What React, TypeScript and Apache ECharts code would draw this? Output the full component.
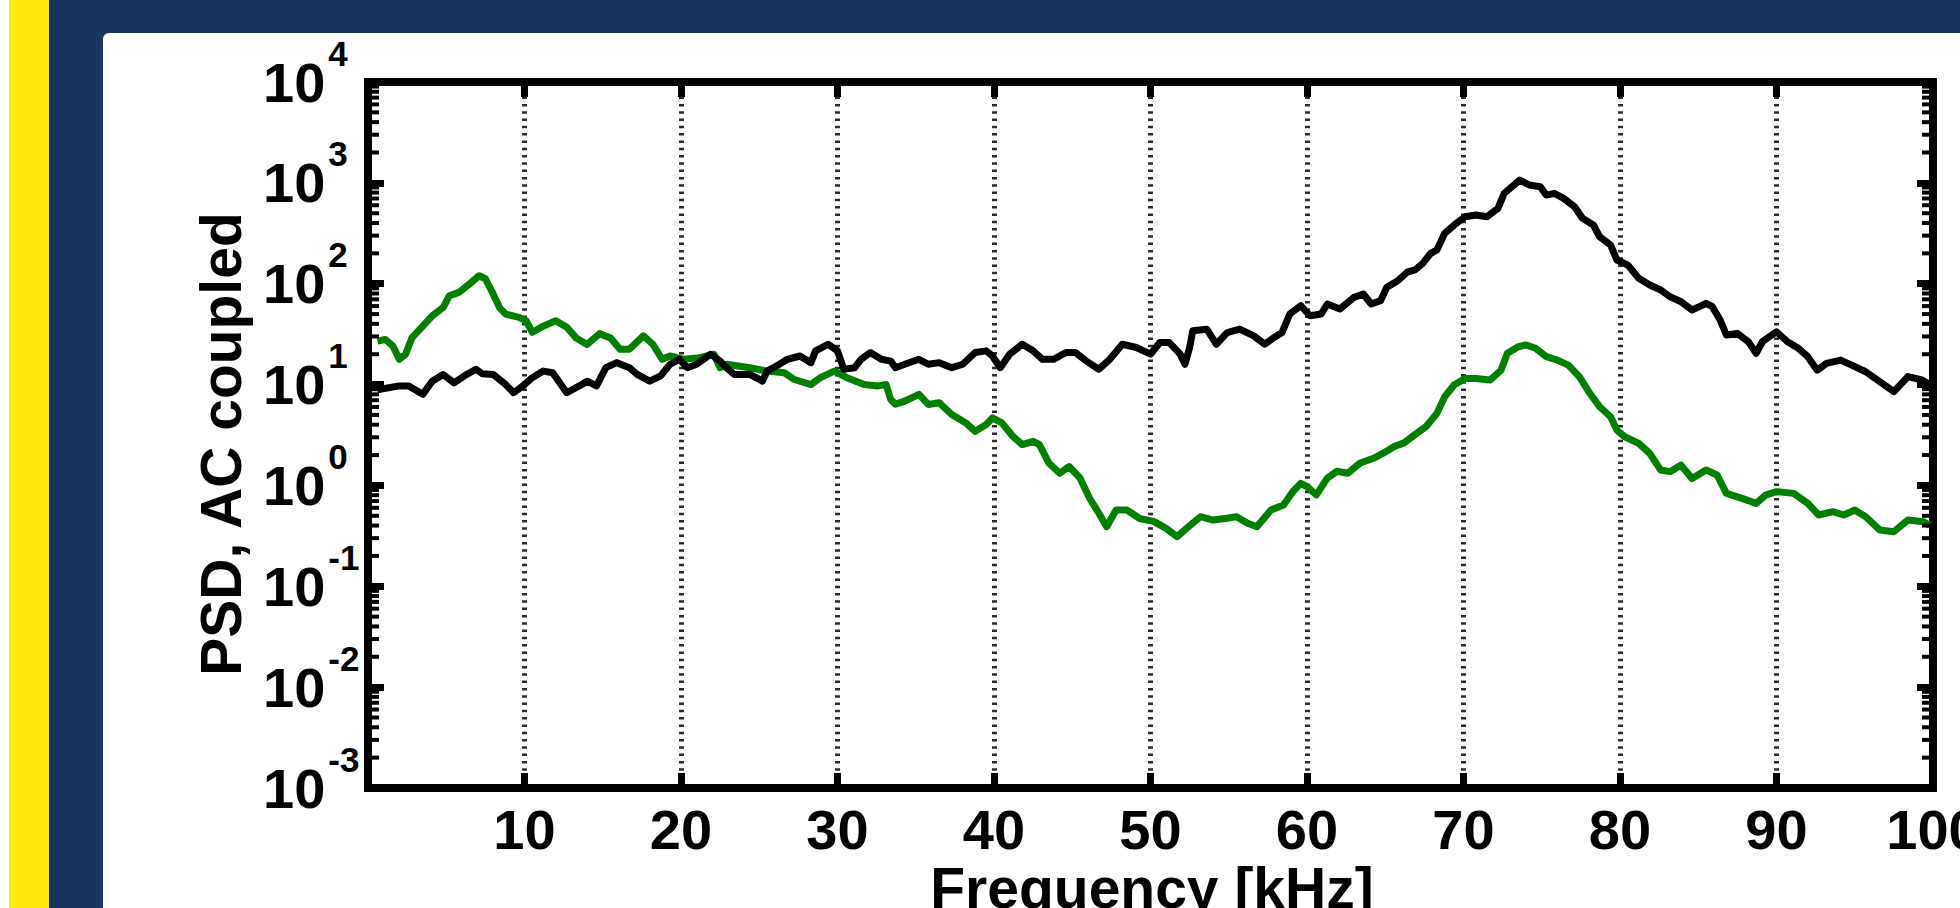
import React, { useEffect, useRef } from 'react';
import * as echarts from 'echarts';

// ---- data ----
const freqBlack = [
  0.6, 2.0, 2.6, 3.5, 4.1, 4.8, 5.5, 6.3, 6.9, 7.3,
  8.0, 8.8, 9.3, 9.9, 10.5, 11.2, 11.8, 12.7, 13.5, 14.0,
  14.6, 15.2, 15.9, 16.7, 17.2, 18.0, 18.7, 19.3, 19.9, 20.4,
  21.0, 21.9, 22.5, 22.9, 23.4, 24.4, 25.2, 25.5, 26.1, 26.8,
  27.6, 28.3, 28.6, 29.4, 30.0, 30.4, 31.1, 31.5, 32.1, 32.8,
  33.4, 33.7, 34.3, 35.2, 35.8, 36.5, 37.3, 38.0, 38.8, 39.5,
  39.9, 40.4, 41.0, 41.8, 42.5, 43.1, 43.8, 44.6, 45.2, 45.9,
  46.7, 47.4, 48.2, 49.1, 50.0, 50.6, 51.2, 51.9, 52.2, 52.5,
  52.7, 53.6, 54.2, 54.9, 55.7, 56.6, 57.3, 57.9, 58.4, 58.9,
  59.6, 60.2, 60.9, 61.3, 62.1, 63.0, 63.6, 64.1, 64.7, 65.1,
  65.8, 66.4, 66.9, 67.4, 67.9, 68.3, 68.8, 69.4, 70.1, 70.8,
  71.5, 72.2, 72.6, 73.1, 73.6, 74.2, 74.9, 75.3, 75.8, 76.4,
  77.1, 77.6, 78.3, 78.7, 79.4, 79.8, 80.5, 81.2, 81.9, 82.6,
  83.2, 83.9, 84.6, 85.5, 85.9, 86.4, 86.8, 87.5, 88.2, 88.7,
  89.1, 90.0, 90.7, 91.4, 92.0, 92.6, 93.2, 94.1, 94.8, 95.7,
  96.6, 97.5, 98.4, 99.3, 99.8,
];
const psdBlack = [
  8.9, 9.7, 9.7, 8.0, 10.8, 12.6, 10.4, 12.6, 14.2, 12.8,
  12.6, 10.0, 8.3, 9.7, 11.7, 13.6, 13.1, 8.3, 9.7, 10.8,
  9.7, 14.7, 16.5, 14.7, 12.6, 10.8, 12.2, 15.9, 17.8, 14.7,
  15.9, 20.0, 17.1, 14.7, 12.6, 12.6, 10.8, 13.6, 15.3, 17.8,
  19.2, 16.5, 21.6, 25.1, 21.6, 14.2, 14.7, 17.8, 20.8, 17.8,
  17.1, 14.7, 15.9, 17.8, 15.9, 16.5, 14.7, 15.9, 20.8, 21.6,
  19.2, 14.7, 20.0, 25.1, 21.6, 17.8, 17.8, 20.8, 20.8, 17.1,
  14.2, 17.8, 25.1, 23.3, 20.0, 26.1, 26.1, 20.0, 15.9, 23.3,
  34.1, 35.4, 25.1, 32.8, 35.4, 30.4, 25.1, 29.3, 32.8, 50.0,
  60.5, 48.1, 50.0, 62.9, 56.1, 73.2, 79.1, 62.9, 67.9, 92.1,
  107, 130, 137, 159, 200, 216, 316, 382, 462, 480,
  462, 558, 787, 916, 1067, 952, 916, 757, 787, 702,
  580, 445, 382, 292, 242, 172, 153, 113, 97, 86.6,
  74.3, 66.3, 54.8, 63.9, 59.2, 43.6, 31.0, 32.2, 26.6, 20.4,
  26.6, 33.4, 26.6, 22.9, 18.9, 13.9, 16.2, 17.5, 15.6, 13.4,
  10.7, 8.5, 12.0, 11.1, 10.0,
];
const freqGreen = [
  0.6, 1.1, 1.6, 2.0, 2.4, 2.8, 3.5, 4.1, 4.8, 5.2,
  5.8, 6.5, 7.1, 7.5, 7.9, 8.4, 8.8, 9.7, 10.1, 10.5,
  11.2, 12.0, 12.7, 13.3, 14.0, 14.8, 15.5, 16.1, 16.7, 17.6,
  18.2, 18.8, 19.3, 20.2, 21.2, 22.1, 22.5, 22.9, 24.4, 25.5,
  26.6, 27.2, 28.3, 28.9, 29.8, 30.6, 31.7, 32.6, 33.1, 33.4,
  33.7, 34.3, 35.2, 35.8, 36.5, 37.3, 38.2, 38.8, 39.5, 39.9,
  40.5, 41.2, 41.8, 42.5, 42.9, 43.5, 44.2, 44.8, 45.5, 46.1,
  46.7, 47.2, 47.8, 48.5, 49.3, 50.2, 51.0, 51.7, 52.3, 53.2,
  54.0, 54.9, 55.5, 56.2, 56.8, 57.7, 58.5, 59.1, 59.6, 60.0,
  60.6, 61.3, 61.9, 62.6, 63.4, 64.3, 64.9, 65.6, 66.2, 67.0,
  67.6, 68.3, 68.8, 69.4, 70.1, 70.8, 71.7, 72.4, 72.8, 73.5,
  74.0, 74.6, 75.3, 76.0, 76.7, 77.4, 78.0, 78.7, 79.4, 79.8,
  80.3, 81.2, 81.9, 82.6, 83.2, 83.9, 84.6, 85.5, 86.2, 86.8,
  87.8, 88.7, 89.3, 90.0, 91.1, 92.0, 92.7, 93.6, 94.3, 95.0,
  95.7, 96.6, 97.5, 98.4, 99.4, 99.8,
];
const psdGreen = [
  27, 28, 24, 17.8, 20, 29, 38, 48, 58, 76,
  82, 100, 120, 112, 85, 58, 50, 46, 43, 33,
  38, 43, 37, 29, 25, 32, 29, 22.4, 22.4, 30.4,
  25.1, 17.8, 19.2, 17.8, 18.5, 20, 14.7, 15.9, 14.7, 13.6,
  13.1, 11.3, 10.0, 11.7, 13.6, 11.7, 10.0, 9.7, 10.0, 7.1,
  6.4, 6.85, 8.0, 6.35, 6.6, 5.05, 4.17, 3.44, 4.01, 4.68,
  4.17, 3.07, 2.54, 2.74, 2.54, 1.67, 1.32, 1.54, 1.18, 0.75,
  0.53, 0.39, 0.57, 0.57, 0.47, 0.44, 0.375, 0.31, 0.375, 0.49,
  0.454, 0.472, 0.49, 0.421, 0.39, 0.571, 0.641, 0.87, 1.05, 0.975,
  0.806, 1.18, 1.38, 1.32, 1.67, 1.87, 2.10, 2.44, 2.64, 3.28,
  3.82, 5.18, 7.58, 9.9, 11.5, 11.5, 11.1, 13.9, 20.4, 23.7,
  24.7, 22.9, 18.9, 17.5, 15.6, 12.0, 8.5, 6.03, 4.80, 3.54,
  3.04, 2.61, 2.08, 1.42, 1.37, 1.59, 1.17, 1.42, 1.27, 0.834,
  0.744, 0.664, 0.803, 0.867, 0.834, 0.664, 0.509, 0.549, 0.509, 0.570,
  0.490, 0.361, 0.348, 0.454, 0.437, 0.40,
];

const xMin = 0;
const xMax = 100;
const xStep = 10;
const yMin = 0.001;
const yMax = 10000;
const minorDecades = [-3, -2, -1, 0, 1, 2, 3];
const minorMultipliers = [2, 3, 4, 5, 6, 7, 8, 9];
const xTitle = 'Frequency [kHz]';
const yTitle = 'PSD, AC coupled';

const FONT = "'Liberation Sans', Arial, Helvetica, sans-serif";

export default function App() {
  const ref = useRef<HTMLDivElement>(null);

  useEffect(() => {
    if (!ref.current) return;
    const chart = echarts.init(ref.current, undefined, { renderer: 'svg' });

    const minorTicks: number[][] = [];
    minorDecades.forEach((d) =>
      minorMultipliers.forEach((m) => minorTicks.push([xMin, m * Math.pow(10, d)]))
    );

    const axisLine = { show: true, onZero: false, lineStyle: { color: '#000', width: 8, cap: 'square' } };
    const majorTick = { show: true, inside: true, length: 16, lineStyle: { color: '#000', width: 7 } };

    const option: any = {
      animation: false,
      backgroundColor: '#ffffff',
      grid: {
        left: 368,
        right: 27,
        top: 82,
        bottom: 120,
        containLabel: false,
        outerBoundsMode: 'none',
      },
      graphic: [
        { type: 'rect', z: -100, silent: true, shape: { x: 9, y: 0, width: 40, height: 908 }, style: { fill: '#fde910' } },
        { type: 'rect', z: -100, silent: true, shape: { x: 49, y: 0, width: 1911, height: 908 }, style: { fill: '#1b365e' } },
        { type: 'rect', z: -99, silent: true, shape: { x: 103, y: 33, width: 1880, height: 900, r: [6, 0, 0, 0] }, style: { fill: '#ffffff' } },
        {
          type: 'text', z: 10, silent: true, x: 1152, y: 888,
          style: { text: xTitle, fontSize: 57, fontWeight: 'bold', fontFamily: FONT, fill: '#000', align: 'center', verticalAlign: 'middle' },
        },
        {
          type: 'text', z: 10, silent: true, x: 221, y: 444, rotation: Math.PI / 2,
          style: { text: yTitle, fontSize: 57, fontWeight: 'bold', fontFamily: FONT, fill: '#000', align: 'center', verticalAlign: 'middle' },
        },
      ],
      xAxis: [
        {
          type: 'value', position: 'bottom', min: xMin, max: xMax, interval: xStep,
          axisLine, axisTick: { ...majorTick, length: 15 },
          axisLabel: {
            show: true, margin: 13, color: '#000', fontSize: 56, fontWeight: 'bold', fontFamily: FONT,
            lineHeight: 56, showMinLabel: false, showMaxLabel: true,
          },
          splitLine: { show: true, lineStyle: { color: '#2b2b2b', width: 5, type: [2.5, 4.8] } },
        },
        {
          type: 'value', position: 'top', min: xMin, max: xMax, interval: xStep,
          axisLine, axisTick: { ...majorTick, length: 15 },
          axisLabel: { show: false }, splitLine: { show: false },
        },
      ],
      yAxis: [
        {
          type: 'log', logBase: 10, min: yMin, max: yMax, splitNumber: 7, position: 'left',
          axisLine, axisTick: majorTick,
          axisLabel: {
            show: true, margin: 105, align: 'left', color: '#000',
            formatter: (v: number) => `{b|10}{s|${Math.round(Math.log10(v))}}`,
            rich: {
              b: { fontSize: 56, fontWeight: 'bold', fontFamily: FONT, color: '#000', lineHeight: 93 },
              s: { fontSize: 35, fontWeight: 'bold', fontFamily: FONT, color: '#000', verticalAlign: 'top', padding: [0, 0, 0, 3] },
            },
          },
          splitLine: { show: false },
        },
        {
          type: 'log', logBase: 10, min: yMin, max: yMax, splitNumber: 7, position: 'right',
          axisLine, axisTick: majorTick,
          axisLabel: { show: false }, splitLine: { show: false },
        },
      ],
      series: [
        {
          type: 'line', name: 'green', xAxisIndex: 0, yAxisIndex: 0,
          data: freqGreen.map((f, i) => [f, psdGreen[i]]),
          showSymbol: false, symbol: 'none', silent: true, z: 3,
          lineStyle: { color: '#007f00', width: 7, join: 'round' },
          itemStyle: { color: '#007f00' },
        },
        {
          type: 'line', name: 'black', xAxisIndex: 0, yAxisIndex: 0,
          data: freqBlack.map((f, i) => [f, psdBlack[i]]),
          showSymbol: false, symbol: 'none', silent: true, z: 4,
          lineStyle: { color: '#000000', width: 7, join: 'round' },
          itemStyle: { color: '#000000' },
        },
        {
          type: 'custom', name: 'minorTicks', xAxisIndex: 0, yAxisIndex: 0,
          data: minorTicks, clip: false, silent: true, z: 5,
          renderItem: (_params: any, api: any) => {
            const v = api.value(1);
            const l = api.coord([xMin, v]);
            const r = api.coord([xMax, v]);
            return {
              type: 'group',
              children: [
                { type: 'line', shape: { x1: l[0], y1: l[1], x2: l[0] + 11, y2: l[1] }, style: { stroke: '#000', lineWidth: 4 } },
                { type: 'line', shape: { x1: r[0], y1: r[1], x2: r[0] - 11, y2: r[1] }, style: { stroke: '#000', lineWidth: 4 } },
              ],
            };
          },
        },
      ],
    };

    chart.setOption(option);
    return () => chart.dispose();
  }, []);

  return (
    <div
      ref={ref}
      style={{ position: 'absolute', left: 0, top: 0, width: 1960, height: 908 }}
    />
  );
}
